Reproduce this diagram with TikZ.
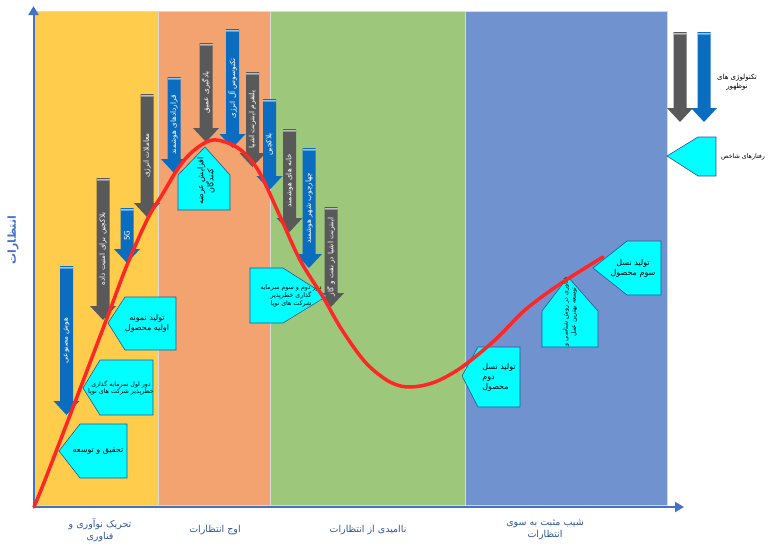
\documentclass[tikz,border=0pt]{standalone}
\usepackage{fontspec}
\setmainfont{DejaVu Sans}
\newfontfamily\fafont[Script=Arabic]{DejaVu Sans}
\TeXXeTstate=1
\usetikzlibrary{arrows.meta}

\definecolor{bandyellow}{HTML}{FFCD4B}
\definecolor{bandorange}{HTML}{F2A36F}
\definecolor{bandgreen}{HTML}{9DC77B}
\definecolor{bandblue}{HTML}{7093D0}
\definecolor{arrgray}{HTML}{595959}
\definecolor{arrblue}{HTML}{0A6DC0}
\definecolor{callcyan}{HTML}{00FFFF}
\definecolor{callline}{HTML}{2F528F}
\definecolor{axisblue}{HTML}{4472C4}
\definecolor{phaseblue}{HTML}{2F5597}
\definecolor{hypered}{HTML}{FF2626}

\newcommand{\fa}[1]{{\fafont\beginR #1\endR}}
% name, x, top, tip, colour, text
\newcommand{\techarrow}[6]{%
  \fill[#5] ({#2-6.5},#3) -- ({#2+6.5},#3) -- ({#2+6.5},{#4-14}) -- ({#2+13},{#4-14})
    -- (#2,#4) -- ({#2-13},{#4-14}) -- ({#2-6.5},{#4-14}) -- cycle;
  \draw[white!60!#5, line width=0.7pt] ({#2-6.5},{#3+1}) -- ({#2+6.5},{#3+1});
  \draw[white!35!#5, line width=0.7pt] ({#2-6.5},{#3+2.8}) -- ({#2+6.5},{#3+2.8});
  \node[arrowtext] (#1) at (#2,{(#3+#4)/2}) {#6};
}

\begin{document}
\begin{tikzpicture}[x=1pt, y=-1pt,
  arrowtext/.style={text=white, font=\fontsize{7.3}{8}\selectfont, rotate=90, inner sep=0pt},
  callout/.style={fill=callcyan, draw=callline, line width=0.6pt},
  calltext/.style={font=\fontsize{8}{10}\selectfont, align=center, inner sep=0pt},
  smalltext/.style={font=\fontsize{6.3}{7.8}\selectfont, align=center, inner sep=0pt},
  phase/.style={text=phaseblue, font=\fontsize{9.5}{12}\selectfont, align=center, inner sep=0pt},
  axis/.style={draw=axisblue, line width=2pt, -{Triangle[length=9pt, width=10pt]}},
  hype/.style={draw=hypered, line width=3.5pt, line cap=round}
]
  \useasboundingbox (0,0) rectangle (771,549);

  % phases
  \filldraw[fill=bandyellow, draw=black!15] (34,11) rectangle (158,505);
  \filldraw[fill=bandorange, draw=black!15] (158,11) rectangle (270,505);
  \filldraw[fill=bandgreen, draw=black!15] (270,11) rectangle (465,505);
  \filldraw[fill=bandblue, draw=black!15] (465,11) rectangle (667,505);

  \coordinate (origin) at (33.5,507);
  \coordinate (ytop) at (33.5,6);
  \coordinate (xend) at (684,507);
  \draw[axis] (origin) -- (ytop);
  \draw[axis] (origin) -- (xend);

  \node[phase, rotate=90, text=axisblue, font=\fontsize{11}{13}\selectfont\bfseries] (ylab) at (13,240) {\fa{انتظارات}};
  \node[phase] (ph1) at (100,530) {\fa{تحریک نوآوری و}\\\fa{فناوری}};
  \node[phase] (ph2) at (215,530) {\fa{اوج انتظارات}};
  \node[phase] (ph3) at (368,530) {\fa{ناامیدی از انتظارات}};
  \node[phase] (ph4) at (545,530) {\fa{شیب مثبت به سوی}\\\fa{انتظارات}};

  % technologies
  \techarrow{ai}{66.5}{266}{415}{arrblue}{\fa{هوش مصنوعی}}
  \techarrow{bcdata}{103}{178}{320}{arrgray}{\fa{بلاکچین برای امنیت داده}}
  \techarrow{fiveg}{127}{208}{263}{arrblue}{\fafont 5G}
  \techarrow{energy}{147}{94}{217}{arrgray}{\fa{معاملات انرژی}}
  \techarrow{contracts}{174}{77}{173}{arrblue}{\fa{قراردادهای هوشمند}}
  \techarrow{deepl}{206}{43}{142}{arrgray}{\fa{یادگیری عمیق}}
  \techarrow{technos}{232.5}{29}{148}{arrblue}{\fa{تکنوسوس آل انرژی}}
  \techarrow{iotplat}{252.5}{72}{167}{arrgray}{\fa{پلتفرم اینترنت اشیا}}
  \techarrow{bchain}{269.5}{99}{190}{arrblue}{\fa{بلاکچین}}
  \techarrow{homes}{289.5}{129}{232}{arrgray}{\fa{خانه های هوشمند}}
  \techarrow{city}{309}{148}{268}{arrblue}{\fa{چهارچوب شهر هوشمند}}
  \techarrow{iotoil}{331}{207}{307}{arrgray}{\fa{اینترنت اشیا در نفت و گاز}}

  % behaviours
  \filldraw[callout] (59,451) -- (80,424) -- (127,424) -- (127,478) -- (80,478) -- cycle;
  \node[calltext] (rnd) at (98,451) {\fa{تحقیق و توسعه}};
  \filldraw[callout] (83,388) -- (100,360) -- (153,360) -- (153,415) -- (100,415) -- cycle;
  \node[smalltext] (round1) at (121,388) {\fa{دور اول سرمایه گذاری}\\\fa{خطرپذیر شرکت های نوپا}};
  \filldraw[callout] (108,323) -- (125,297) -- (176,297) -- (176,350) -- (125,350) -- cycle;
  \node[calltext] (proto) at (147,323) {\fa{تولید نمونه}\\\fa{اولیه محصول}};
  \filldraw[callout] (205,147) -- (230,175) -- (230,210) -- (178,210) -- (178,175) -- cycle;
  \node[calltext, rotate=90] (suppliers) at (206,181) {\fa{افزایش عرضه}\\\fa{کنندگان}};
  \filldraw[callout] (250,268) -- (283,268) -- (327,296) -- (283,323) -- (250,323) -- cycle;
  \node[smalltext] (round23) at (291,296) {\fa{دور دوم و سوم سرمایه}\\\fa{گذاری خطرپذیر}\\\fa{شرکت های نوپا}};
  \filldraw[callout] (462,376) -- (478,347) -- (520,347) -- (520,407) -- (478,407) -- cycle;
  \node[calltext, align=left] (gen2) at (499,377) {\fa{تولید نسل}\\\fa{دوم}\\\fa{محصول}};
  \filldraw[callout] (568,277) -- (598,311) -- (598,347) -- (542,347) -- (542,311) -- cycle;
  \node[smalltext, rotate=90] (method) at (570,312) {\fa{فناوری در روش شناسی و}\\\fa{توسعه بهترین عمل}};
  \filldraw[callout] (593,268) -- (627,241) -- (661,241) -- (661,295) -- (627,295) -- cycle;
  \node[calltext] (gen3) at (633,268) {\fa{تولید نسل}\\\fa{سوم محصول}};

  % legend
  \techarrow{keygray}{680}{32}{122}{arrgray}{}
  \techarrow{keyblue}{704}{32}{122}{arrblue}{}
  \node[smalltext, font=\fontsize{7}{9}\selectfont] (keytech) at (737,82) {\fa{تکنولوژی های}\\\fa{نوظهور}};
  \filldraw[callout] (667,156) -- (698,137) -- (716,137) -- (716,176) -- (698,176) -- cycle;
  \node[smalltext, font=\fontsize{6.3}{8}\selectfont] (keybeh) at (743,157) {\fa{رفتارهای شاخص}};

  % hype curve
  \draw[hype] plot[smooth, tension=0.55] coordinates {(34,507) (45,480) (72,410) (107,318)
    (127,265) (148,218) (162,195) (177,170) (192,152) (213,140) (238,148) (258,170)
    (279,214) (300,260) (323,297) (342,330) (366,363) (390,382) (410,387) (435,382)
    (462,367) (495,340) (525,310) (560,284) (603,257)};
\end{tikzpicture}
\end{document}
